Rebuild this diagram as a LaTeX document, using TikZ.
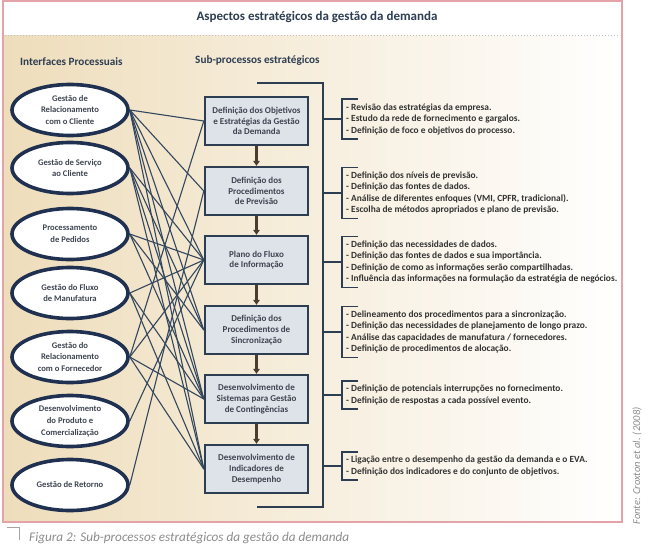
\documentclass[tikz,border=0pt]{standalone}
\usepackage{fontspec}
\setmainfont{Carlito}
\usetikzlibrary{shapes.geometric,arrows.meta,calc}
\definecolor{navy}{HTML}{1F3050}
\definecolor{slate}{HTML}{2E3E52}
\definecolor{boxfill}{HTML}{DEE2E9}
\definecolor{txtgrey}{HTML}{3E4550}
\definecolor{framepink}{HTML}{E3A3A8}
\definecolor{tanL}{HTML}{EEDDBB}
\definecolor{tanM}{HTML}{F8EFDF}
\definecolor{brownarr}{HTML}{4A3C30}
\definecolor{linec}{HTML}{33475F}
\definecolor{capgrey}{HTML}{8C8C8C}
\pgfdeclarelayer{bg}
\pgfdeclarelayer{lines}
\pgfsetlayers{bg,lines,main}
\begin{document}
\begin{tikzpicture}[x=1pt,y=-1pt,
 iface/.style={ellipse, draw=navy, line width=3.6pt, fill=white, minimum width=116pt, minimum height=51pt, inner sep=0pt, align=center, font=\fontsize{8.6}{11.7}\selectfont\bfseries, text=txtgrey},
 subp/.style={rectangle, draw=slate, line width=2.4pt, fill=boxfill, minimum width=103pt, minimum height=48pt, inner sep=1pt, align=center, font=\fontsize{9}{10.8}\selectfont\bfseries, text=txtgrey},
 conn/.style={draw=linec, line width=1.1pt},
 flow/.style={draw=brownarr, line width=2.5pt, -{Triangle[length=5pt,width=6.5pt]}},
 bracket/.style={draw=slate, line width=1.8pt},
 itemtxt/.style={anchor=west, align=left, font=\fontsize{9.4}{11.5}\selectfont\bfseries, text=black!80, inner sep=0pt},
 hdr/.style={font=\fontsize{11.2}{12}\selectfont\bfseries, text=slate, anchor=base west, inner sep=0pt}
]
\useasboundingbox (0,0) rectangle (650,547);
\begin{pgfonlayer}{bg}
\fill[white] (0,0) rectangle (650,547);
\shade[left color=tanL, middle color=tanM, right color=white] (3,35) rectangle (622,522);
\end{pgfonlayer}
\draw[framepink, line width=1.2pt] (3,1) rectangle (622,522);
\draw[black!25, line width=0.9pt, dash pattern=on 1pt off 2pt] (5,35) -- (620,35);
\node[font=\fontsize{13}{14}\selectfont\bfseries, text=slate] (title) at (317,17) {Aspectos estratégicos da gestão da demanda};
\node[hdr] (h1) at (20,65) {Interfaces Processuais};
\node[hdr] (h2) at (195,63) {Sub-processos estratégicos};

% interfaces
\node[iface] (e1) at (70,110) {Gestão de\\Relacionamento\\com o Cliente};
\node[iface] (e2) at (70,168) {Gestão de Serviço\\ao Cliente};
\node[iface] (e3) at (70,234) {Processamento\\de Pedidos};
\node[iface] (e4) at (70,293) {Gestão do Fluxo\\de Manufatura};
\node[iface] (e5) at (70,357) {Gestão do\\Relacionamento\\com o Fornecedor};
\node[iface] (e6) at (70,421) {Desenvolvimento\\do Produto e\\Comercialização};
\node[iface] (e7) at (70,485) {Gestão de Retorno};

% sub-processes
\node[subp] (b1) at (256.5,121) {Definição dos Objetivos\\e Estratégias da Gestão\\da Demanda};
\node[subp] (b2) at (256.5,191) {Definição dos\\Procedimentos\\de Previsão};
\node[subp] (b3) at (256.5,260) {Plano do Fluxo\\de Informação};
\node[subp] (b4) at (256.5,330) {Definição dos\\Procedimentos de\\Sincronização};
\node[subp] (b5) at (256.5,399) {Desenvolvimento de\\Sistemas para Gestão\\de Contingências};
\node[subp] (b6) at (256.5,469) {Desenvolvimento de\\Indicadores de\\Desempenho};

\draw[flow] (b1.south) -- (b2.north);
\draw[flow] (b2.south) -- (b3.north);
\draw[flow] (b3.south) -- (b4.north);
\draw[flow] (b4.south) -- (b5.north);
\draw[flow] (b5.south) -- (b6.north);

\begin{pgfonlayer}{lines}
\foreach \b in {b1,b2,b3,b4,b5,b6} \draw[conn] (e1.east) -- (\b.west);
\foreach \b in {b3,b4,b5,b6} \draw[conn] (e2.east) -- (\b.west);
\foreach \b in {b3,b4,b5} \draw[conn] (e3.east) -- (\b.west);
\foreach \b in {b3,b5,b6} \draw[conn] (e4.east) -- (\b.west);
\foreach \b in {b1,b3,b5,b6} \draw[conn] (e5.east) -- (\b.west);
\draw[conn] (e6.east) -- (b3.west);
\draw[conn] (e7.east) -- (b2.west);
\end{pgfonlayer}

% main bracket
\coordinate (brT) at (257,83);
\coordinate (brTR) at (323,83);
\coordinate (brBR) at (323,507);
\coordinate (brB) at (257,507);
\draw[bracket] (brT) -- (brTR) -- (brBR) -- (brB);

% groups
\node[itemtxt] (g1) at (346,119) {- Revisão das estratégias da empresa.\\- Estudo da rede de fornecimento e gargalos.\\- Definição de foco e objetivos do processo.};
\node[itemtxt] (g2) at (346,193) {- Definição dos níveis de previsão.\\- Definição das fontes de dados.\\- Análise de diferentes enfoques (VMI, CPFR, tradicional).\\- Escolha de métodos apropriados e plano de previsão.};
\node[itemtxt] (g3) at (346,262) {- Definição das necessidades de dados.\\- Definição das fontes de dados e sua importância.\\- Definição de como as informações serão compartilhadas.\\- Influência das informações na formulação da estratégia de negócios.};
\node[itemtxt] (g4) at (346,332) {- Delineamento dos procedimentos para a sincronização.\\- Definição das necessidades de planejamento de longo prazo.\\- Análise das capacidades de manufatura / fornecedores.\\- Definição de procedimentos de alocação.};
\node[itemtxt] (g5) at (346,395) {- Definição de potenciais interrupções no fornecimento.\\- Definição de respostas a cada possível evento.};
\node[itemtxt] (g6) at (346,466) {- Ligação entre o desempenho da gestão da demanda e o EVA.\\- Definição dos indicadores e do conjunto de objetivos.};

\foreach \g in {g1,g2,g3,g4,g5,g6} {
  \draw[bracket] ($(\g.north west)+(12,-4)$) -- ($(\g.north west)+(-4,-4)$) -- ($(\g.south west)+(-4,4)$) -- ($(\g.south west)+(12,4)$);
  \draw[bracket] (brTR |- \g.west) -- ($(\g.west)+(-4,0)$);
}

% caption and source
\draw[capgrey!80, line width=0.8pt] (7,527) -- (19,527) -- (19,540);
\node[anchor=base west, font=\fontsize{13.2}{14}\selectfont\itshape, text=capgrey, inner sep=0pt] (cap) at (29,541) {Figura 2: Sub-processos estratégicos da gestão da demanda};
\node[rotate=90, font=\fontsize{10.5}{11}\selectfont\itshape, text=capgrey, inner sep=0pt] (src) at (637,466) {Fonte: Croxton et al. (2008)};
\end{tikzpicture}
\end{document}
